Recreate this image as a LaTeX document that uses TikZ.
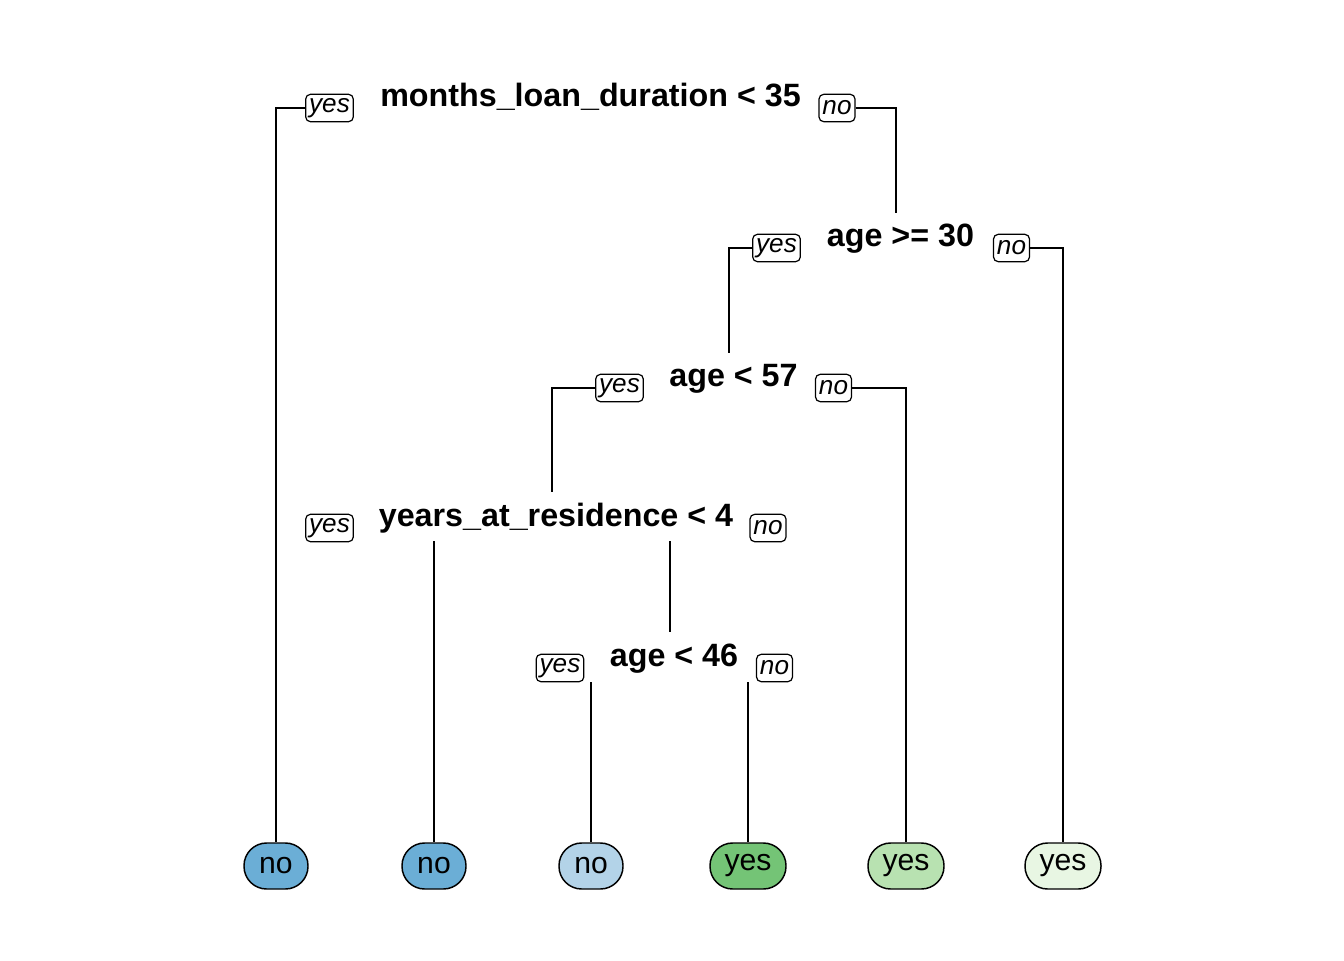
\documentclass[tikz,border=0pt]{standalone}
\usepackage{fontspec}
\setmainfont{Liberation Sans}
\definecolor{bluedark}{HTML}{6BAED6}
\definecolor{bluelight}{HTML}{B3D3E8}
\definecolor{greendark}{HTML}{74C476}
\definecolor{greenmid}{HTML}{B8E2B1}
\definecolor{greenlight}{HTML}{E8F6E3}
\begin{document}
\begin{tikzpicture}
[
x=0.75pt, y=-0.75pt,
line width=1.1pt,
split/.style={font=\fontsize{24.2}{29}\selectfont\bfseries, anchor=base, inner sep=0pt},
answer/.style={draw, rounded corners=3.5pt, line width=0.9pt, inner xsep=2.6pt, inner ysep=0pt,
               minimum height=20.5pt, font=\fontsize{19.6}{22}\selectfont\itshape},
leaf/.style 2 args={draw, fill=#1, rounded corners=17pt, minimum height=34.5pt,
                    minimum width=#2, inner sep=0pt, font=\fontsize{22.6}{26}\selectfont},
]
\useasboundingbox (0,0) rectangle (1344,960);

%Place the nodes
\node[split] (s1) at (590.5,106) {months\_loan\_duration < 35};
\node[answer] (y1) at (329.5,108) {yes};
\node[answer] (n1) at (837,108) {no};

\node[split] (s2) at (900.5,246) {age >= 30};
\node[answer] (y2) at (776.5,248) {yes};
\node[answer] (n2) at (1011.5,248) {no};

\node[split] (s3) at (733.5,386) {age < 57};
\node[answer] (y3) at (619.5,388) {yes};
\node[answer] (n3) at (833.5,388) {no};

\node[split] (s4) at (556,526) {years\_at\_residence < 4};
\node[answer] (y4) at (329.5,528) {yes};
\node[answer] (n4) at (768,528) {no};

\node[split] (s5) at (674,666) {age < 46};
\node[answer] (y5) at (560,668) {yes};
\node[answer] (n5) at (774.5,668) {no};

\node[leaf={bluedark}{48pt}] (l1) at (276,866) {no};
\node[leaf={bluedark}{48pt}] (l2) at (434,866) {no};
\node[leaf={bluelight}{48pt}] (l3) at (591,866) {no};
\node[leaf={greendark}{57pt}] (l4) at (748,866) {yes};
\node[leaf={greenmid}{57pt}] (l5) at (906,866) {yes};
\node[leaf={greenlight}{57pt}] (l6) at (1063,866) {yes};

\coordinate (e2) at (896,213);
\coordinate (e3) at (729,353);
\coordinate (e4) at (552,492);
\coordinate (e5) at (670,632);
\coordinate (b4l) at (434,541);
\coordinate (b4r) at (670,541);
\coordinate (b5l) at (591,682);
\coordinate (b5r) at (748,682);

%Draw the connections
\draw (y1.west) -| (l1.north);
\draw (n1.east) -| (e2);
\draw (y2.west) -| (e3);
\draw (n2.east) -| (l6.north);
\draw (y3.west) -| (e4);
\draw (n3.east) -| (l5.north);
\draw (b4l) -- (l2.north);
\draw (b4r) -- (e5);
\draw (b5l) -- (l3.north);
\draw (b5r) -- (l4.north);
\end{tikzpicture}
\end{document}
